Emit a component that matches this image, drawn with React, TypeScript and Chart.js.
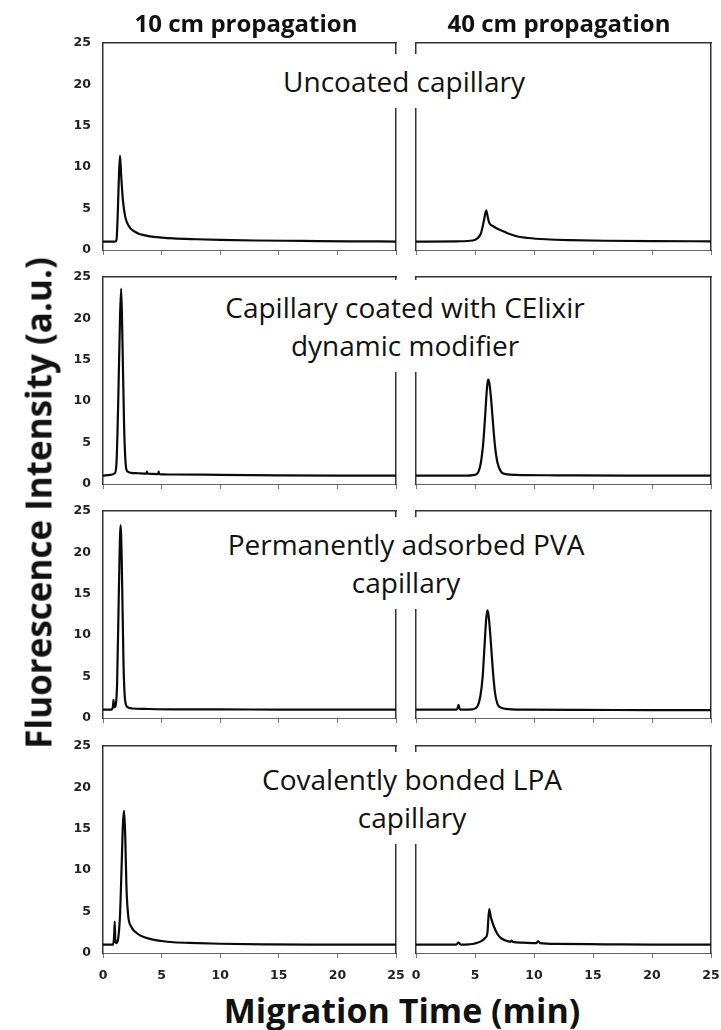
import React, { useEffect, useRef } from 'react';
import { Chart, registerables } from 'chart.js';

Chart.register(...registerables);

// ---------------- data ----------------
const xTicks = [0, 5, 10, 15, 20, 25];
const yTicks = [0, 5, 10, 15, 20, 25];
const columnTitles = ['10 cm propagation', '40 cm propagation'];
const rowLabels = [
  ['Uncoated capillary'],
  ['Capillary coated with CElixir', 'dynamic modifier'],
  ['Permanently adsorbed PVA', 'capillary'],
  ['Covalently bonded LPA', 'capillary'],
];
const xTitle = 'Migration Time (min)';
const yTitle = 'Fluorescence Intensity (a.u.)';

// Row 1: uncoated capillary
const uncoated10Time = [0, 1.0, 1.15, 1.25, 1.35, 1.45, 1.55, 1.7, 1.9, 2.2, 2.6, 3.0, 3.5, 4.0, 5.0, 6.0, 8.0, 10, 13, 17, 21, 25];
const uncoated10Signal = [1.0, 1.0, 1.2, 4.0, 8.5, 11.4, 9.0, 6.0, 4.0, 2.9, 2.3, 2.0, 1.8, 1.65, 1.5, 1.4, 1.3, 1.22, 1.15, 1.1, 1.05, 1.02];
const uncoated40Time = [0, 3.5, 4.8, 5.2, 5.5, 5.75, 5.95, 6.05, 6.2, 6.5, 7.0, 7.5, 8.0, 8.7, 9.5, 11, 13, 16, 20, 25];
const uncoated40Signal = [1.0, 1.05, 1.15, 1.4, 2.0, 3.5, 4.8, 4.2, 3.3, 2.9, 2.5, 2.2, 1.9, 1.6, 1.45, 1.3, 1.2, 1.12, 1.07, 1.05];

// Row 2: CElixir dynamic coating
const celixir10Time = [0, 0.6, 1.0, 1.15, 1.3, 1.45, 1.55, 1.65, 1.8, 1.95, 2.1, 2.4, 3.0, 3.7, 3.75, 3.8, 4.7, 4.75, 4.8, 6, 10, 15, 20, 25];
const celixir10Signal = [1.0, 1.1, 1.3, 2.5, 10, 20, 23.6, 18, 7, 2.2, 1.5, 1.35, 1.3, 1.25, 1.5, 1.25, 1.2, 1.5, 1.2, 1.15, 1.1, 1.05, 1.02, 1.0];
const celixir40Time = [0, 4, 5.0, 5.3, 5.5, 5.7, 5.85, 6.0, 6.1, 6.2, 6.35, 6.5, 6.7, 6.9, 7.2, 7.6, 8.5, 12, 18, 25];
const celixir40Signal = [1.0, 1.0, 1.1, 1.5, 2.6, 5.0, 8.0, 11.3, 12.6, 12.3, 10.5, 7.8, 4.5, 2.6, 1.5, 1.2, 1.1, 1.05, 1.0, 1.0];

// Row 3: PVA
const pva10Time = [0, 0.7, 0.85, 0.9, 0.95, 1.05, 1.2, 1.35, 1.5, 1.6, 1.75, 1.9, 2.1, 2.5, 3.5, 6, 10, 15, 20, 25];
const pva10Signal = [1.0, 1.0, 1.4, 2.2, 1.3, 1.4, 4.0, 15, 23.3, 19, 6.5, 2.0, 1.3, 1.15, 1.1, 1.05, 1.05, 1.0, 1.0, 1.0];
const pva40Time = [0, 3.3, 3.5, 3.6, 3.7, 3.9, 4.8, 5.2, 5.45, 5.65, 5.8, 5.95, 6.05, 6.15, 6.3, 6.5, 6.7, 6.9, 7.2, 7.6, 9, 14, 20, 25];
const pva40Signal = [1.0, 1.0, 1.1, 1.6, 1.1, 1.0, 1.05, 1.4, 2.6, 5.0, 8.5, 12.0, 13.0, 12.4, 10.0, 6.0, 3.0, 1.7, 1.25, 1.1, 1.0, 0.98, 0.95, 0.95];

// Row 4: LPA
const lpa10Time = [0, 0.85, 0.95, 1.0, 1.05, 1.15, 1.3, 1.45, 1.6, 1.7, 1.8, 1.9, 2.0, 2.15, 2.4, 2.8, 3.2, 4.0, 5.0, 6.0, 8.0, 10, 14, 18, 25];
const lpa10Signal = [1.0, 1.0, 2.0, 3.8, 1.5, 1.2, 1.8, 4.5, 11, 15.5, 17.2, 14, 8, 4.5, 3.2, 2.5, 2.1, 1.7, 1.45, 1.3, 1.2, 1.12, 1.05, 1.02, 1.0];
const lpa40Time = [0, 3.4, 3.6, 3.8, 4.5, 5.0, 5.5, 5.85, 6.05, 6.2, 6.35, 6.6, 6.9, 7.2, 7.6, 8.0, 8.1, 8.2, 9.0, 10.2, 10.35, 10.5, 12, 16, 20, 25];
const lpa40Signal = [1.0, 1.0, 1.25, 1.0, 1.05, 1.15, 1.4, 1.8, 2.4, 5.3, 4.3, 3.2, 2.3, 1.8, 1.5, 1.35, 1.5, 1.35, 1.25, 1.2, 1.45, 1.2, 1.1, 1.05, 1.0, 1.0];

const traces: [number[], number[]][][] = [
  [[uncoated10Time, uncoated10Signal], [uncoated40Time, uncoated40Signal]],
  [[celixir10Time, celixir10Signal], [celixir40Time, celixir40Signal]],
  [[pva10Time, pva10Signal], [pva40Time, pva40Signal]],
  [[lpa10Time, lpa10Signal], [lpa40Time, lpa40Signal]],
];

// ---------------- layout ----------------
const COL_LEFT = [103, 416];
const COL_WIDTH = [293, 295];
const ROW_TOP = [43, 277, 511, 746];
const ROW_HEIGHT = 207;
const AXW = 45;
const PAD_TOP = 8;
const PAD_RIGHT = 12;
const LABEL_TOP = [54, 280, 517, 752];
const LABEL_CENTER = [404, 405, 406, 412];

const noPad = (sc: any) => {
  sc.paddingTop = 0;
  sc.paddingBottom = 0;
  sc.paddingLeft = 0;
  sc.paddingRight = 0;
};

function Panel({ row, col }: { row: number; col: number }) {
  const ref = useRef<HTMLCanvasElement | null>(null);
  const isBottom = row === 3;
  const xh = isBottom ? 34 : 8;
  const width = AXW + COL_WIDTH[col] + PAD_RIGHT;
  const height = PAD_TOP + ROW_HEIGHT + xh;

  useEffect(() => {
    if (!ref.current) return;
    const [t, s] = traces[row][col];
    const chart = new Chart(ref.current, {
      type: 'line',
      data: {
        datasets: [
          {
            data: t.map((x, i) => ({ x, y: s[i] })),
            borderColor: '#0a0a0a',
            borderWidth: 2.2,
            pointRadius: 0,
            fill: false,
            cubicInterpolationMode: 'monotone',
          },
        ],
      },
      options: {
        animation: false,
        responsive: false,
        maintainAspectRatio: false,
        events: [],
        layout: { padding: { top: PAD_TOP, right: PAD_RIGHT, left: 0, bottom: 0 } },
        plugins: { legend: { display: false }, tooltip: { enabled: false } },
        scales: {
          x: {
            type: 'linear',
            position: 'bottom',
            min: 0,
            max: 25,
            afterBuildTicks: (sc: any) => {
              sc.ticks = xTicks.map((v) => ({ value: v }));
            },
            ticks: {
              display: isBottom,
              color: '#222',
              padding: 10,
              maxRotation: 0,
              autoSkip: false,
              font: { family: 'DejaVu Sans', size: 12.5, weight: 'bold' },
            },
            grid: { drawOnChartArea: false, drawTicks: true, tickLength: 5, color: '#777', lineWidth: 1 },
            border: { display: true, color: '#666', width: 1 },
            afterFit: (sc: any) => {
              sc.height = xh;
              noPad(sc);
            },
          },
          y: {
            type: 'linear',
            position: 'left',
            min: 0,
            max: 25,
            afterBuildTicks: (sc: any) => {
              sc.ticks = yTicks.map((v) => ({ value: v }));
            },
            ticks: {
              display: col === 0,
              color: '#222',
              padding: 12,
              autoSkip: false,
              font: { family: 'DejaVu Sans', size: 12.5, weight: 'bold' },
            },
            grid: { drawOnChartArea: false, drawTicks: false },
            border: { display: true, color: '#333', width: 1.5 },
            afterFit: (sc: any) => {
              sc.width = AXW;
              noPad(sc);
            },
          },
          xTop: {
            type: 'linear',
            position: 'top',
            min: 0,
            max: 25,
            ticks: { display: false },
            grid: { display: false },
            border: { display: true, color: '#333', width: 1.5 },
            afterFit: (sc: any) => {
              sc.height = 0;
              noPad(sc);
            },
          },
          yRight: {
            type: 'linear',
            position: 'right',
            min: 0,
            max: 25,
            ticks: { display: false },
            grid: { display: false },
            border: { display: true, color: '#333', width: 1.5 },
            afterFit: (sc: any) => {
              sc.width = 0;
              noPad(sc);
            },
          },
        },
      } as any,
    });
    return () => chart.destroy();
  }, [row, col]);

  return (
    <canvas
      ref={ref}
      width={width}
      height={height}
      style={{
        position: 'absolute',
        left: COL_LEFT[col] - AXW,
        top: ROW_TOP[row] - PAD_TOP,
        width,
        height,
      }}
    />
  );
}

export default function App() {
  const panels = [];
  for (let r = 0; r < 4; r++) {
    for (let c = 0; c < 2; c++) {
      panels.push(<Panel key={`${r}-${c}`} row={r} col={c} />);
    }
  }
  return (
    <div
      style={{
        position: 'absolute',
        left: 0,
        top: 0,
        width: 721,
        height: 1030,
        background: '#fff',
        overflow: 'hidden',
        fontFamily: "'Open Sans', sans-serif",
        color: '#111',
      }}
    >
      {panels}
      {columnTitles.map((t, i) => (
        <div
          key={t}
          style={{
            position: 'absolute',
            left: [246, 559][i],
            top: 23,
            transform: 'translate(-50%, -50%)',
            fontWeight: 700,
            fontSize: 24,
            whiteSpace: 'nowrap',
            lineHeight: 1,
          }}
        >
          {t}
        </div>
      ))}
      {rowLabels.map((lines, i) => (
        <div
          key={i}
          style={{
            position: 'absolute',
            left: LABEL_CENTER[i],
            top: LABEL_TOP[i],
            transform: 'translateX(-50%)',
            background: '#fff',
            padding: '8px 4px',
            fontSize: 28,
            lineHeight: '38px',
            textAlign: 'center',
            whiteSpace: 'nowrap',
            zIndex: 2,
          }}
        >
          {lines.map((l) => (
            <div key={l}>{l}</div>
          ))}
        </div>
      ))}
      <div
        style={{
          position: 'absolute',
          left: 38,
          top: 503,
          transform: 'translate(-50%, -50%) rotate(-90deg)',
          fontWeight: 700,
          fontSize: 35,
          whiteSpace: 'nowrap',
          lineHeight: 1,
        }}
      >
        {yTitle}
      </div>
      <div
        style={{
          position: 'absolute',
          left: 402,
          top: 1010,
          transform: 'translate(-50%, -50%)',
          fontWeight: 700,
          fontSize: 34,
          whiteSpace: 'nowrap',
          lineHeight: 1,
        }}
      >
        {xTitle}
      </div>
    </div>
  );
}
